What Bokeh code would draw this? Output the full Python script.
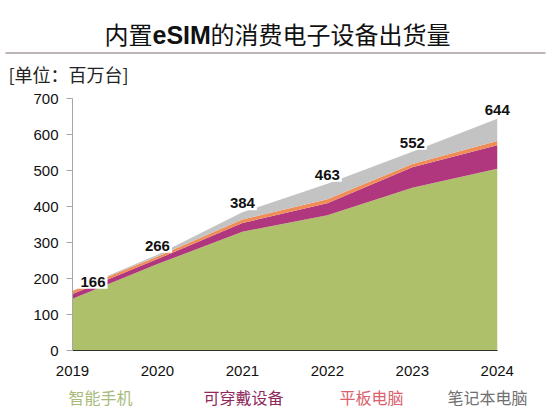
from bokeh.plotting import figure
from bokeh.layouts import column
from bokeh.models import ColumnDataSource, Range1d, Label, FixedTicker, Plot
from bokeh.embed import file_html
from bokeh.resources import INLINE

years = [2019, 2020, 2021, 2022, 2023, 2024]
smartphones = [144, 240, 330, 376, 452, 505]
wearables = [13, 14, 24, 33, 57, 65]
tablets = [8, 7, 10, 11, 9, 12]
laptops = [1, 5, 20, 43, 34, 62]
totals = [166, 266, 384, 463, 552, 644]
series_names = ["智能手机", "可穿戴设备", "平板电脑", "笔记本电脑"]
y_ticks = [0, 100, 200, 300, 400, 500, 600, 700]

title_text = ["内置", "eSIM", "的消费电子设备出货量"]
unit_text = "[单位：百万台]"

area_colors = ["#AFC06A", "#B0377E", "#F08C55", "#C3C3C3"]
legend_colors = ["#A9BB7A", "#8E2A5C", "#D9606C", "#707070"]

FONT = "Liberation Sans"
CJK = "Noto Sans CJK SC"
W = 557
HEAD_H, MAIN_H, FOOT_H = 90, 292, 28
HAS_FRAME_ALIGN = "frame_align" in Plot.properties()


def blank(h, y0, y1):
    f = figure(width=W, height=h, output_backend="svg", toolbar_location=None,
               x_range=Range1d(0, W), y_range=Range1d(y1, y0),
               x_axis_type=None, y_axis_type=None,
               min_border=0, min_border_left=0, min_border_right=0,
               min_border_top=0, min_border_bottom=0)
    f.outline_line_color = None
    f.xgrid.grid_line_color = None
    f.ygrid.grid_line_color = None
    if HAS_FRAME_ALIGN:
        f.frame_align = False
    return f


# ---- header: title, rule, unit ----
head = blank(HEAD_H, 0, HEAD_H)
ts = 24
x0 = 104
ty = 33
head.add_layout(Label(x=x0, y=ty, text=title_text[0], text_font=CJK,
                      text_font_size=f"{ts}px", text_baseline="middle",
                      text_align="left", text_color="#111111"))
head.add_layout(Label(x=x0 + 2 * ts, y=ty + 1, text=title_text[1], text_font=FONT,
                      text_font_style="bold", text_font_size=f"{ts + 1}px",
                      text_baseline="middle", text_align="left",
                      text_color="#111111"))
head.add_layout(Label(x=x0 + 2 * ts + 58, y=ty, text=title_text[2], text_font=CJK,
                      text_font_size=f"{ts}px", text_baseline="middle",
                      text_align="left", text_color="#111111"))
head.segment(x0=[5], y0=[52.5], x1=[545], y1=[52.5], line_color="#A89CA4",
             line_width=1.5)
head.add_layout(Label(x=8, y=73, text=unit_text, text_font=CJK,
                      text_font_size="18px", text_baseline="middle",
                      text_align="left", text_color="#222222"))

# ---- main chart ----
p = figure(width=W, height=MAIN_H, output_backend="svg", toolbar_location=None,
           x_range=Range1d(2019, 2024.25), y_range=Range1d(0, 700),
           min_border_left=72, min_border_right=39, min_border_top=8,
           min_border_bottom=32)
p.outline_line_color = None
p.xgrid.grid_line_color = None
p.ygrid.grid_line_color = None
if HAS_FRAME_ALIGN:
    p.frame_align = False

src = ColumnDataSource(dict(year=years, s0=smartphones, s1=wearables,
                            s2=tablets, s3=laptops))
p.varea_stack(stackers=["s0", "s1", "s2", "s3"], x="year", color=area_colors,
              source=src)

p.xaxis.ticker = FixedTicker(ticks=years)
p.xaxis.bounds = (years[0], years[-1])
p.xaxis.major_tick_line_color = None
p.xaxis.minor_tick_line_color = None
p.xaxis.axis_line_color = "#303030"
p.xaxis.major_label_standoff = 9
p.xaxis.major_label_text_font = FONT
p.xaxis.major_label_text_font_size = "15px"
p.xaxis.major_label_text_color = "#111111"

p.yaxis.ticker = FixedTicker(ticks=y_ticks)
p.yaxis.minor_tick_line_color = None
p.yaxis.axis_line_color = "#A6A6A6"
p.yaxis.major_tick_line_color = "#A6A6A6"
p.yaxis.major_tick_out = 6
p.yaxis.major_tick_in = 0
p.yaxis.major_label_standoff = 8
p.yaxis.major_label_text_font = FONT
p.yaxis.major_label_text_font_size = "15px"
p.yaxis.major_label_text_color = "#111111"

for i, (yr, tot) in enumerate(zip(years, totals)):
    p.add_layout(Label(x=yr, y=tot, text=str(tot), text_font=FONT,
                       text_font_size="15px", text_font_style="bold",
                       text_color="#111111",
                       text_align="left" if i == 0 else "center",
                       x_offset=6 if i == 0 else 0,
                       text_baseline="middle", y_offset=9,
                       background_fill_color="white", padding=2))

# ---- footer: legend texts ----
foot = blank(FOOT_H, HEAD_H + MAIN_H, HEAD_H + MAIN_H + FOOT_H)
legend_x = [100, 243, 371, 487]
for name, col, lx in zip(series_names, legend_colors, legend_x):
    foot.add_layout(Label(x=lx, y=408, text=name, text_font=CJK,
                          text_font_size="16px", text_baseline="bottom",
                          text_align="center", text_color=col))

layout = column(head, p, foot, spacing=0)
open("out.html", "w").write(file_html(layout, INLINE))
